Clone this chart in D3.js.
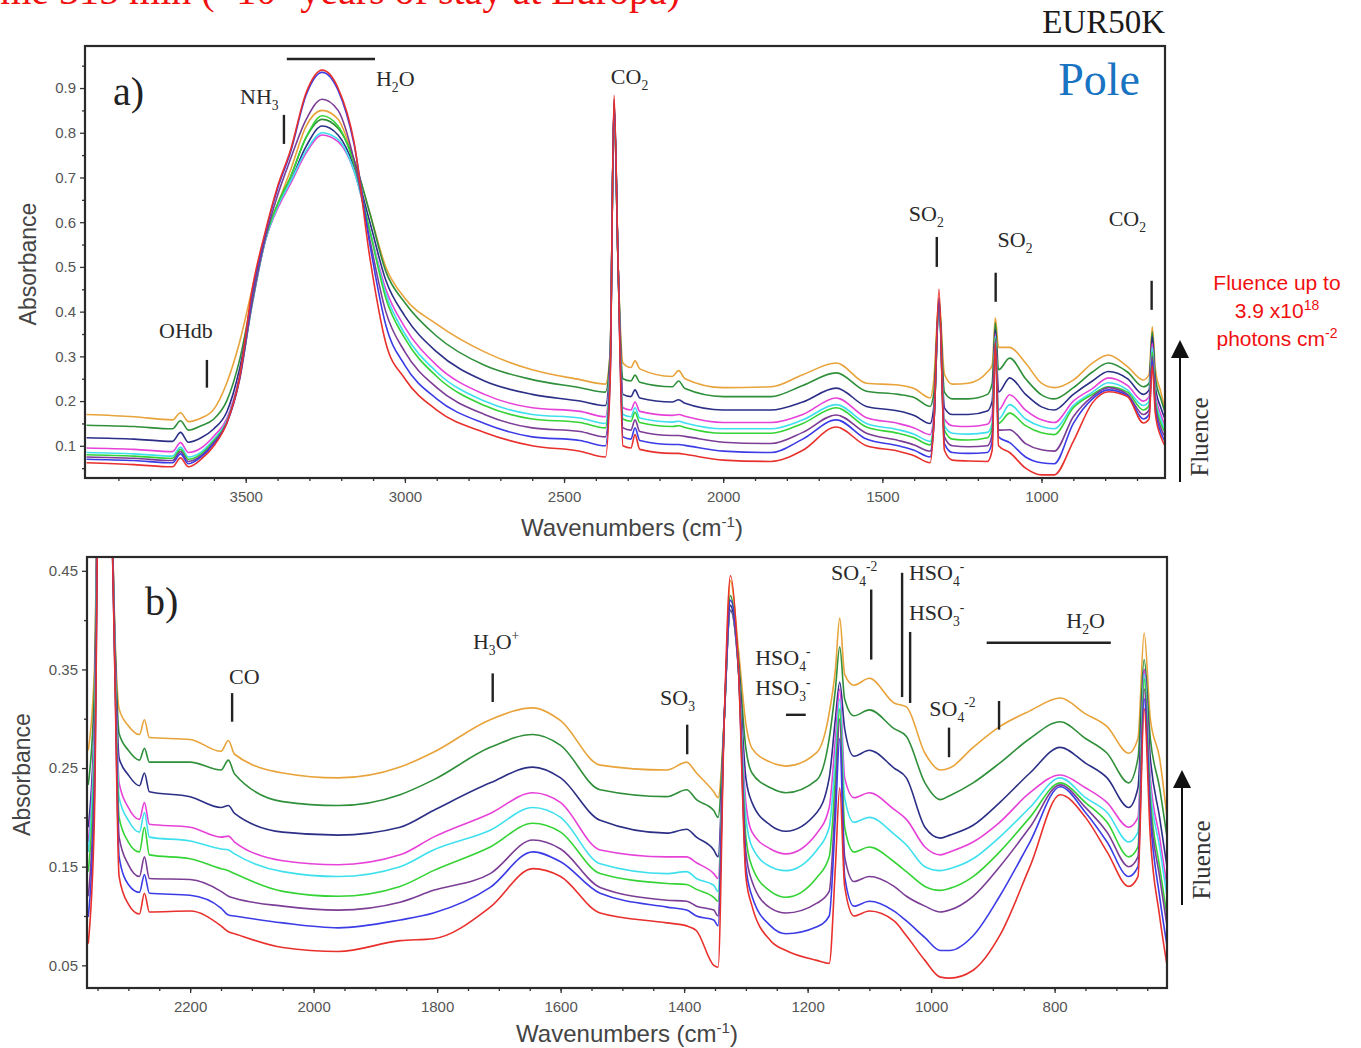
<!DOCTYPE html>
<html>
<head>
<meta charset="utf-8">
<script src="https://cdn.jsdelivr.net/npm/d3@7"></script>
<style>
  body { margin: 0; background: #fff; }
  svg { display: block; }
</style>
</head>
<body>
<script>
// ---- panel a) : 4000 - 610 cm-1 ----
const waveA = [4000,3850,3730,3705,3680,3640,3600,3560,3520,3480,3440,3400,3360,3310,3260,3210,3160,3110,3060,3000,
  2900,2750,2600,2450,2370,2355,2343,2330,2315,2290,2277,2262,2160,2140,2120,2000,1850,1750,1645,1550,
  1450,1400,1350,1338,1322,1305,1280,1230,1170,1155,1145,1135,1100,1050,1000,960,900,840,790,730,
  680,662,652,642,625,612];

const aRed = [.062,.058,.053,.073,.053,.070,.100,.150,.250,.450,.575,.680,.760,.890,.940,.900,.780,.520,.330,.250,
  .180,.130,.100,.088,.075,.250,.884,.500,.100,.095,.125,.092,.083,.083,.081,.068,.065,.090,.142,.100,
  .088,.078,.062,.150,.450,.090,.068,.066,.065,.090,.330,.100,.085,.050,.035,.035,.110,.196,.221,.210,
  .151,.160,.280,.170,.120,.100];
const aBlue = [.070,.067,.062,.082,.060,.075,.105,.150,.250,.440,.570,.675,.755,.885,.935,.895,.775,.550,.370,.280,
  .205,.150,.120,.112,.100,.260,.875,.500,.120,.115,.140,.112,.103,.103,.101,.088,.085,.115,.158,.115,
  .100,.090,.075,.150,.430,.105,.085,.083,.085,.110,.330,.120,.107,.075,.062,.060,.150,.205,.225,.212,
  .160,.170,.290,.180,.130,.110];
const aPurple = [.075,.072,.067,.087,.065,.078,.108,.150,.245,.420,.560,.660,.740,.830,.875,.850,.740,.560,.400,.310,
  .230,.170,.140,.132,.120,.270,.870,.500,.140,.135,.158,.132,.123,.123,.121,.108,.105,.130,.169,.128,
  .112,.102,.088,.150,.420,.120,.100,.098,.100,.125,.335,.135,.136,.105,.091,.088,.165,.210,.230,.215,
  .170,.180,.300,.190,.140,.120];
const aLime = [.080,.077,.072,.092,.070,.082,.112,.152,.250,.420,.560,.640,.700,.790,.838,.815,.730,.580,.430,.340,
  .255,.190,.160,.152,.140,.280,.865,.500,.160,.155,.175,.152,.143,.145,.141,.128,.128,.150,.185,.142,
  .128,.118,.102,.155,.415,.135,.115,.113,.118,.140,.340,.150,.173,.145,.129,.125,.185,.215,.232,.220,
  .180,.190,.310,.200,.150,.130];
const aCyan = [.085,.082,.077,.097,.075,.086,.115,.155,.250,.415,.555,.635,.690,.760,.800,.785,.715,.580,.440,.350,
  .265,.200,.170,.162,.150,.285,.862,.500,.170,.165,.185,.162,.153,.155,.151,.138,.138,.158,.192,.150,
  .136,.126,.110,.160,.415,.145,.128,.126,.130,.150,.345,.160,.192,.160,.143,.138,.190,.220,.241,.225,
  .190,.200,.320,.205,.160,.135];
const aMagenta = [.095,.092,.087,.107,.085,.095,.122,.160,.255,.415,.555,.630,.685,.755,.795,.780,.715,.580,.450,.365,
  .280,.215,.185,.177,.165,.290,.860,.500,.185,.180,.198,.177,.168,.170,.166,.152,.152,.170,.207,.163,
  .150,.140,.125,.170,.415,.160,.145,.143,.148,.170,.350,.180,.214,.180,.158,.152,.200,.228,.252,.235,
  .200,.210,.330,.215,.170,.145];
const aNavy = [.118,.115,.110,.130,.108,.118,.138,.175,.270,.420,.555,.635,.690,.770,.815,.795,.725,.600,.470,.390,
  .310,.245,.215,.200,.190,.300,.860,.500,.215,.210,.225,.207,.198,.203,.195,.180,.180,.198,.229,.188,
  .178,.168,.150,.190,.420,.185,.170,.170,.178,.200,.360,.220,.252,.215,.187,.180,.215,.245,.266,.250,
  .215,.225,.345,.230,.185,.160];
const aDkgreen = [.146,.143,.138,.156,.135,.145,.160,.200,.290,.430,.560,.640,.700,.790,.830,.810,.740,.620,.490,.420,
  .345,.280,.248,.230,.220,.310,.860,.500,.250,.245,.258,.242,.232,.245,.228,.210,.210,.235,.263,.222,
  .215,.208,.188,.220,.425,.220,.205,.205,.215,.240,.375,.270,.296,.250,.214,.205,.230,.265,.285,.265,
  .232,.240,.355,.250,.205,.175];
const aOrange = [.170,.165,.158,.174,.154,.162,.182,.240,.330,.450,.565,.640,.715,.815,.850,.830,.740,.620,.500,.430,
  .372,.310,.270,.248,.238,.310,.860,.500,.285,.275,.290,.272,.255,.268,.250,.230,.232,.259,.285,.240,
  .236,.228,.207,.250,.430,.260,.238,.240,.265,.280,.386,.320,.320,.285,.240,.230,.247,.285,.303,.277,
  .247,.260,.366,.270,.220,.180];

// ---- panel b) : zoom 2367 - 618 cm-1 ----
const waveB = [2365,2355,2343,2330,2322,2315,2300,2282,2274,2266,2200,2150,2138,2128,2050,1960,1860,1806,1714,1645,
  1600,1536,1428,1396,1380,1352,1345,1335,1325,1312,1300,1290,1260,1235,1185,1165,1155,1148,1140,1125,
  1100,1060,1040,1010,985,970,932,889,840,791,750,715,680,665,655,645,630,618];

const bRed = [.072,.200,.884,.600,.350,.140,.112,.102,.123,.104,.105,.090,.084,.082,.068,.064,.075,.077,.109,.148,
  .140,.103,.093,.090,.085,.050,.048,.300,.445,.350,.140,.110,.075,.065,.055,.052,.150,.230,.130,.100,
  .105,.095,.080,.055,.038,.037,.045,.080,.150,.223,.200,.165,.130,.140,.310,.180,.100,.050];
const bBlue = [.099,.220,.875,.600,.355,.160,.132,.124,.142,.123,.121,.108,.101,.100,.093,.088,.096,.103,.129,.165,
  .155,.123,.109,.106,.100,.096,.090,.300,.420,.350,.150,.120,.090,.082,.089,.100,.200,.280,.140,.110,
  .115,.105,.095,.078,.065,.065,.080,.120,.175,.231,.205,.175,.140,.150,.320,.200,.120,.070];
const bPurple = [.120,.240,.870,.600,.360,.180,.152,.140,.160,.138,.137,.125,.120,.118,.110,.106,.114,.126,.143,.177,
  .168,.129,.116,.115,.110,.106,.100,.300,.410,.350,.165,.135,.108,.103,.113,.125,.220,.300,.160,.135,
  .140,.130,.120,.110,.104,.106,.120,.150,.190,.233,.210,.185,.150,.160,.330,.210,.140,.090];
const bLime = [.145,.260,.865,.600,.365,.200,.175,.165,.190,.162,.158,.148,.146,.143,.125,.120,.130,.146,.170,.194,
  .185,.143,.133,.132,.127,.119,.115,.300,.410,.350,.180,.150,.125,.119,.139,.160,.240,.310,.190,.165,
  .170,.155,.145,.130,.126,.128,.140,.165,.200,.235,.215,.195,.160,.170,.340,.220,.150,.100];
const bCyan = [.165,.280,.862,.600,.370,.220,.197,.185,.205,.180,.176,.168,.167,.163,.145,.140,.150,.167,.187,.210,
  .200,.153,.143,.145,.138,.131,.125,.300,.410,.350,.200,.170,.150,.146,.167,.190,.260,.320,.220,.195,
  .200,.183,.172,.150,.146,.148,.158,.180,.210,.240,.220,.205,.175,.185,.345,.230,.170,.120];
const bMagenta = [.175,.290,.860,.600,.375,.235,.210,.198,.215,.193,.190,.180,.181,.175,.156,.152,.162,.180,.204,.225,
  .215,.167,.160,.160,.154,.143,.138,.300,.410,.350,.215,.185,.168,.163,.184,.210,.280,.330,.240,.220,
  .225,.208,.198,.170,.162,.165,.175,.195,.225,.243,.230,.215,.190,.200,.350,.240,.180,.130];
const bNavy = [.190,.300,.860,.600,.380,.260,.243,.232,.245,.226,.221,.210,.212,.204,.185,.182,.190,.207,.235,.251,
  .240,.197,.184,.188,.180,.167,.160,.300,.415,.355,.240,.215,.192,.186,.205,.240,.300,.337,.290,.262,
  .268,.250,.240,.190,.179,.182,.192,.215,.245,.271,.255,.240,.210,.230,.350,.260,.200,.150];
const bDkgreen = [.233,.330,.860,.600,.385,.285,.268,.258,.270,.256,.256,.248,.258,.244,.216,.212,.223,.238,.271,.284,
  .273,.228,.221,.228,.218,.207,.200,.300,.425,.360,.270,.245,.230,.225,.238,.280,.330,.373,.320,.303,
  .309,.290,.282,.235,.218,.222,.235,.255,.280,.297,.280,.265,.235,.260,.360,.280,.230,.180];
const bOrange = [.268,.350,.860,.600,.390,.310,.293,.284,.299,.281,.279,.267,.278,.264,.245,.240,.251,.266,.299,.311,
  .298,.253,.248,.256,.245,.226,.220,.300,.440,.370,.295,.270,.256,.252,.266,.306,.350,.402,.345,.334,
  .341,.316,.312,.265,.248,.250,.271,.292,.308,.321,.305,.292,.265,.280,.387,.300,.260,.200];

// series order: drawn first -> last (red ends on top)
const seriesColors = ["#e8a33a", "#2f8f3a", "#2b2f86", "#e642d8", "#3fe0ee", "#35d335", "#7b3d95", "#3c3ce6", "#e8302c"];
const seriesA = [aOrange, aDkgreen, aNavy, aMagenta, aCyan, aLime, aPurple, aBlue, aRed];
const seriesB = [bOrange, bDkgreen, bNavy, bMagenta, bCyan, bLime, bPurple, bBlue, bRed];

// tick labels
const xTicksA = [3500, 3000, 2500, 2000, 1500, 1000];
const yTicksA = [0.1, 0.2, 0.3, 0.4, 0.5, 0.6, 0.7, 0.8, 0.9];
const xTicksB = [2200, 2000, 1800, 1600, 1400, 1200, 1000, 800];
const yTicksB = [0.05, 0.15, 0.25, 0.35, 0.45];

// band annotations: [wavenumber, absorbance from, absorbance to]
const marksA = [[3622, .292, .230], [3380, .840, .775], [1329, .567, .500], [1144, .487, .422], [654, .469, .404]];
const barsA = [[3371, 3094, .965]];
const labelsA = [
  {t: [["OHdb"]], w: 3688, v: .341, anchor: "middle"},
  {t: [["NH"], ["3", "sub"]], w: 3518, v: .864},
  {t: [["H"], ["2", "sub"], ["O"]], w: 3091, v: .904},
  {t: [["CO"], ["2", "sub"]], w: 2353, v: .909},
  {t: [["SO"], ["2", "sub"]], w: 1417, v: .603},
  {t: [["SO"], ["2", "sub"]], w: 1138, v: .545},
  {t: [["CO"], ["2", "sub"]], w: 789, v: .592}
];
const marksB = [[2132, .326, .297], [1710, .346, .317], [1395, .294, .264], [1097, .431, .360],
  [1047, .448, .322], [1034, .388, .316], [971, .291, .261], [890, .318, .289]];
const barsB = [[1235, 1203, .304], [910, 709, .377]];
const labelsB = [
  {t: [["CO"]], w: 2137, v: .335},
  {t: [["H"], ["3", "sub"], ["O"], ["+", "sup"]], w: 1742, v: .371},
  {t: [["SO"], ["3", "sub"]], w: 1439, v: .314},
  {t: [["HSO"], ["4", "sub"], ["-", "sup"]], w: 1285, v: .355},
  {t: [["HSO"], ["3", "sub"], ["-", "sup"]], w: 1285, v: .324},
  {t: [["SO"], ["4", "sub"], ["-2", "sup"]], w: 1162, v: .441},
  {t: [["HSO"], ["4", "sub"], ["-", "sup"]], w: 1036, v: .441},
  {t: [["HSO"], ["3", "sub"], ["-", "sup"]], w: 1036, v: .400},
  {t: [["SO"], ["4", "sub"], ["-2", "sup"]], w: 1003, v: .303},
  {t: [["H"], ["2", "sub"], ["O"]], w: 781, v: .392}
];

const W = 1361, H = 1048;
const serif = "'Liberation Serif', 'DejaVu Serif', serif";
const sans = "'Liberation Sans', Arial, sans-serif";

const svg = d3.select("body").append("svg")
  .attr("width", W)
  .attr("height", H);

// cut-off red heading at the very top
svg.append("text")
  .attr("x", -22).attr("y", 4)
  .style("font-family", serif).style("font-size", "40px")
  .attr("fill", "#f01010")
  .text("time 315 min (~10⁴ years of stay at Europa)");

svg.append("text")
  .attr("x", 1165).attr("y", 33)
  .attr("text-anchor", "end")
  .style("font-family", serif).style("font-size", "33px")
  .attr("fill", "#1a1a1a")
  .text("EUR50K");

// write a formula with sub/superscripts
function chem(g, x, y, parts, size, anchor) {
  const t = g.append("text")
    .attr("x", x).attr("y", y)
    .attr("text-anchor", anchor || "start")
    .style("font-family", serif).style("font-size", size + "px")
    .attr("fill", "#2a2a2a");
  let shift = 0;
  parts.forEach(p => {
    const kind = p[1];
    const target = kind === "sub" ? size * 0.28 : kind === "sup" ? -size * 0.38 : 0;
    t.append("tspan")
      .attr("dy", target - shift)
      .style("font-size", kind ? (size * 0.62) + "px" : null)
      .text(p[0]);
    shift = target;
  });
  return t;
}

function panel(cfg) {
  const x = d3.scaleLinear().domain(cfg.xDomain).range([cfg.left, cfg.right]);
  const y = d3.scaleLinear().domain(cfg.yDomain).range([cfg.bottom, cfg.top]);
  const g = svg.append("g");

  const clipId = "clip-" + cfg.name;
  svg.append("clipPath").attr("id", clipId)
    .append("rect")
    .attr("x", cfg.left).attr("y", cfg.top)
    .attr("width", cfg.right - cfg.left).attr("height", cfg.bottom - cfg.top);

  // spectra
  const line = d3.line()
    .x((d, i) => x(cfg.wave[i]))
    .y(d => y(d))
    .curve(d3.curveMonotoneX);

  g.append("g")
    .attr("clip-path", "url(#" + clipId + ")")
    .selectAll("path")
    .data(cfg.series)
    .join("path")
    .attr("d", line)
    .attr("fill", "none")
    .attr("stroke", (d, i) => seriesColors[i])
    .attr("stroke-width", 1.6)
    .attr("stroke-linejoin", "round");

  // axes
  const xAxis = g.append("g").attr("transform", `translate(0,${cfg.bottom})`)
    .call(d3.axisBottom(x).tickValues(cfg.xTicks).tickSize(5).tickPadding(8).tickFormat(d3.format("d")));
  const xMinor = g.append("g").attr("transform", `translate(0,${cfg.bottom})`)
    .call(d3.axisBottom(x).tickValues(d3.range(cfg.xMinor[0], cfg.xMinor[1], -cfg.xMinor[2])).tickSize(3).tickFormat(""));
  const yAxis = g.append("g").attr("transform", `translate(${cfg.left},0)`)
    .call(d3.axisLeft(y).tickValues(cfg.yTicks).tickSize(5).tickPadding(4).tickFormat(d3.format(cfg.yFmt)));
  const yMinor = g.append("g").attr("transform", `translate(${cfg.left},0)`)
    .call(d3.axisLeft(y).tickValues(cfg.yMinor).tickSize(3).tickFormat(""));

  [xAxis, xMinor, yAxis, yMinor].forEach(a => {
    a.select(".domain").remove();
    a.selectAll("line").attr("stroke", "#333").attr("stroke-width", 1.3);
    a.selectAll("text")
      .style("font-family", sans).style("font-size", "15px")
      .attr("fill", "#555");
  });

  g.append("rect")
    .attr("x", cfg.left).attr("y", cfg.top)
    .attr("width", cfg.right - cfg.left).attr("height", cfg.bottom - cfg.top)
    .attr("fill", "none").attr("stroke", "#2a2a2a").attr("stroke-width", 2.2);

  // axis titles
  g.append("text")
    .attr("transform", `translate(${cfg.yTitleX},${(cfg.top + cfg.bottom) / 2 + 2}) rotate(-90)`)
    .attr("text-anchor", "middle")
    .style("font-family", sans).style("font-size", "23px")
    .attr("fill", "#444")
    .text("Absorbance");

  const xt = g.append("text")
    .attr("x", cfg.xTitleX).attr("y", cfg.xTitleY)
    .attr("text-anchor", "middle")
    .style("font-family", sans).style("font-size", "24px")
    .attr("fill", "#444");
  xt.append("tspan").text("Wavenumbers (cm");
  xt.append("tspan").attr("dy", -9).style("font-size", "15px").text("-1");
  xt.append("tspan").attr("dy", 9).text(")");

  // band markers
  g.selectAll(".mark")
    .data(cfg.marks)
    .join("line")
    .attr("x1", d => x(d[0])).attr("x2", d => x(d[0]))
    .attr("y1", d => y(d[1])).attr("y2", d => y(d[2]))
    .attr("stroke", "#222").attr("stroke-width", 2.4);
  g.selectAll(".bar")
    .data(cfg.bars)
    .join("line")
    .attr("x1", d => x(d[0])).attr("x2", d => x(d[1]))
    .attr("y1", d => y(d[2])).attr("y2", d => y(d[2]))
    .attr("stroke", "#222").attr("stroke-width", 2.4);
  cfg.labels.forEach(l => chem(g, x(l.w), y(l.v), l.t, 22, l.anchor));

  // panel letter
  g.append("text")
    .attr("x", cfg.letterX).attr("y", cfg.letterY)
    .style("font-family", serif).style("font-size", "40px")
    .attr("fill", "#222")
    .text(cfg.letter);

  // fluence arrow
  const ax = cfg.right + 15;
  g.append("line")
    .attr("x1", ax).attr("x2", ax)
    .attr("y1", cfg.arrow[0]).attr("y2", cfg.arrow[1] + 14)
    .attr("stroke", "#111").attr("stroke-width", 2);
  g.append("path")
    .attr("d", `M${ax},${cfg.arrow[1]} L${ax - 9},${cfg.arrow[1] + 18} L${ax + 9},${cfg.arrow[1] + 18} Z`)
    .attr("fill", "#111");
  g.append("text")
    .attr("transform", `translate(${ax + 28},${cfg.fluenceY}) rotate(-90)`)
    .attr("text-anchor", "middle")
    .style("font-family", serif).style("font-size", "25px")
    .attr("fill", "#333")
    .text("Fluence");

  return {x, y, g};
}

panel({
  name: "a", wave: waveA, series: seriesA,
  left: 85, right: 1165, top: 46, bottom: 478,
  xDomain: [4005, 612], yDomain: [0.028, 0.994],
  xTicks: xTicksA, xMinor: [3900, 600, 100],
  yTicks: yTicksA, yMinor: [0.05, 0.15, 0.25, 0.35, 0.45, 0.55, 0.65, 0.75, 0.85, 0.95], yFmt: ".1f",
  yTitleX: 36, xTitleX: 632, xTitleY: 536,
  marks: marksA, bars: barsA, labels: labelsA,
  letter: "a)", letterX: 113, letterY: 105,
  arrow: [482, 340], fluenceY: 437
});

panel({
  name: "b", wave: waveB, series: seriesB,
  left: 87, right: 1167, top: 557, bottom: 988,
  xDomain: [2367, 618], yDomain: [0.027, 0.464],
  xTicks: xTicksB, xMinor: [2350, 600, 50],
  yTicks: yTicksB, yMinor: [0.1, 0.2, 0.3, 0.4], yFmt: ".2f",
  yTitleX: 30, xTitleX: 627, xTitleY: 1042,
  marks: marksB, bars: barsB, labels: labelsB,
  letter: "b)", letterX: 145, letterY: 615,
  arrow: [905, 770], fluenceY: 860
});

// "Pole" tag and fluence note
svg.append("text")
  .attr("x", 1140).attr("y", 95)
  .attr("text-anchor", "end")
  .style("font-family", serif).style("font-size", "46px")
  .attr("fill", "#1873c2")
  .text("Pole");

const note = svg.append("g")
  .style("font-family", sans).style("font-size", "21px")
  .attr("fill", "#f01010")
  .attr("text-anchor", "middle");
note.append("text").attr("x", 1277).attr("y", 290).text("Fluence up to");
const l2 = note.append("text").attr("x", 1277).attr("y", 318);
l2.append("tspan").text("3.9 x10");
l2.append("tspan").attr("dy", -8).style("font-size", "14px").text("18");
const l3 = note.append("text").attr("x", 1277).attr("y", 346);
l3.append("tspan").text("photons cm");
l3.append("tspan").attr("dy", -8).style("font-size", "14px").text("-2");
</script>
</body>
</html>
